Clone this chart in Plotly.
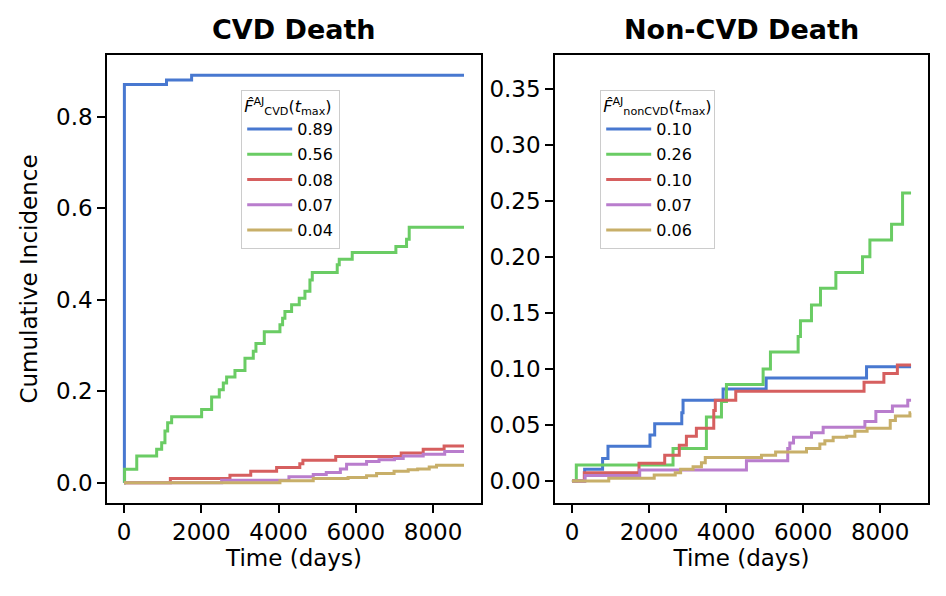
import plotly.graph_objects as go

# ---------------- data ----------------
T_MAX = 8800
group_colors = ["#4878d0", "#6acc64", "#d65f5f", "#b97dcd", "#c8af69"]

# CVD death cumulative incidence (Aalen-Johansen step curves)
cvd_t = [
    [0, 10, 1100, 1750, 8800],
    [0, 15, 330, 845, 975, 1060, 1130, 1233, 2009, 2268, 2466, 2570, 2656, 2872,
     3131, 3346, 3415, 3631, 4036, 4105, 4165, 4338, 4536, 4683, 4812, 4873,
     5519, 5571, 5907, 7037, 7313, 7382, 8800],
    [0, 1200, 2742, 3280, 3950, 4550, 4630, 5480, 7175, 7744, 8285, 8800],
    [0, 2527, 4269, 4898, 5235, 5600, 5761, 6278, 6600, 7000, 7227, 7744, 8300, 8800],
    [0, 4036, 4898, 5800, 6278, 6537, 6990, 7356, 7600, 7900, 8089, 8800],
]
cvd_v = [
    [0, 0.870, 0.880, 0.890, 0.890],
    [0, 0.029, 0.058, 0.073, 0.087, 0.113, 0.131, 0.144, 0.160, 0.187, 0.203, 0.218, 0.231, 0.245,
     0.272, 0.287, 0.304, 0.330, 0.345, 0.359, 0.374, 0.389, 0.403, 0.418, 0.443, 0.459,
     0.476, 0.488, 0.503, 0.516, 0.532, 0.558, 0.558],
    [0, 0.009, 0.016, 0.025, 0.033, 0.041, 0.049, 0.057, 0.065, 0.073, 0.080, 0.080],
    [0, 0.005, 0.013, 0.018, 0.022, 0.030, 0.040, 0.046, 0.050, 0.053, 0.058, 0.062, 0.068, 0.068],
    [0, 0.004, 0.009, 0.011, 0.015, 0.020, 0.025, 0.028, 0.030, 0.034, 0.038, 0.038],
]
cvd_labels = ["0.89", "0.56", "0.08", "0.07", "0.04"]

# Non-CVD death cumulative incidence
noncvd_t = [
    [0, 329, 795, 935, 2025, 2147, 2850, 2883, 3922, 5040, 7645, 8800],
    [0, 113, 2623, 3489, 3880, 4009, 4961, 5151, 5870, 5930, 6216, 6450, 6849, 7541,
     7732, 8294, 8580, 8800],
    [0, 320, 1740, 2407, 2785, 2970, 3229, 3680, 3720, 4251, 7580, 8095, 8445, 8800],
    [0, 340, 1758, 4528, 5600, 5654, 5750, 6216, 6519, 7602, 7887, 8316, 8715, 8800],
    [0, 955, 2135, 2680, 2820, 3143, 3360, 3460, 4918, 5285, 6087, 6433, 6563, 6779,
     7130, 7342, 7660, 8260, 8394, 8771, 8800],
]
noncvd_v = [
    [0, 0.0104, 0.020, 0.031, 0.041, 0.051, 0.061, 0.072, 0.082, 0.092, 0.102, 0.102],
    [0, 0.0143, 0.029, 0.057, 0.071, 0.086, 0.100, 0.115, 0.129, 0.143, 0.157, 0.172,
     0.186, 0.200, 0.215, 0.229, 0.257, 0.257],
    [0, 0.0074, 0.0158, 0.023, 0.032, 0.040, 0.047, 0.063, 0.072, 0.080, 0.088, 0.096,
     0.1036, 0.1036],
    [0, 0.005, 0.0098, 0.018, 0.029, 0.034, 0.039, 0.043, 0.048, 0.053, 0.062, 0.067,
     0.072, 0.072],
    [0, 0.0024, 0.0054, 0.0074, 0.0104, 0.0128, 0.0164, 0.021, 0.023, 0.026, 0.029,
     0.033, 0.036, 0.039, 0.040, 0.0445, 0.047, 0.054, 0.058, 0.061, 0.061],
]
noncvd_labels = ["0.10", "0.26", "0.10", "0.07", "0.06"]

x_ticks = [0, 2000, 4000, 6000, 8000]
cvd_y_ticks = [0.0, 0.2, 0.4, 0.6, 0.8]
noncvd_y_ticks = [0.00, 0.05, 0.10, 0.15, 0.20, 0.25, 0.30, 0.35]

titles = ["CVD Death", "Non-CVD Death"]
x_title = "Time (days)"
y_title = "Cumulative Incidence"
legend_titles = [
    "<i>F̂</i><sup>AJ</sup><sub>CVD</sub>(<i>t</i><sub>max</sub>)",
    "<i>F̂</i><sup>AJ</sup><sub>nonCVD</sub>(<i>t</i><sub>max</sub>)",
]

# ---------------- figure ----------------
FONT = "DejaVu Sans"
fig = go.Figure()

for i in range(5):
    fig.add_trace(go.Scatter(
        x=cvd_t[i], y=cvd_v[i], mode="lines", line=dict(shape="hv", color=group_colors[i], width=3),
        name=cvd_labels[i], xaxis="x", yaxis="y", legend="legend", legendgroup=f"c{i}",
    ))
for i in range(5):
    fig.add_trace(go.Scatter(
        x=noncvd_t[i], y=noncvd_v[i], mode="lines", line=dict(shape="hv", color=group_colors[i], width=3),
        name=noncvd_labels[i], xaxis="x2", yaxis="y2", legend="legend2", legendgroup=f"n{i}",
    ))

axis_common = dict(
    showline=True, mirror=True, linecolor="black", linewidth=1.6,
    ticks="outside", ticklen=8, tickwidth=1.5, tickcolor="black",
    showgrid=False, zeroline=False,
    tickfont=dict(family=FONT, size=23, color="black"),
)

# page body has an 8px offset; figure is placed so the plot areas land where the reference has them
OFF = 8
W, H = 946 - OFF, 596 - OFF
L, R, T, B = 107 - OFF, 18, 55 - OFF, 93
pw = W - L - R
ph = H - T - B

legend_common = dict(
    bgcolor="rgba(255,255,255,0.8)", bordercolor="#cccccc", borderwidth=1.2,
    font=dict(family=FONT, size=16, color="black"),
    xanchor="left", yanchor="top", itemwidth=45, tracegroupgap=1.5,
)

fig.update_layout(
    width=W, height=H,
    margin=dict(l=L, r=R, t=T, b=B),
    plot_bgcolor="white", paper_bgcolor="white",
    font=dict(family=FONT, color="black"),
    xaxis=dict(domain=[0, (481 - 107) / pw], range=[-440, 9240], tickvals=x_ticks,
               title=dict(text=x_title, font=dict(family=FONT, size=23), standoff=4), **axis_common),
    yaxis=dict(domain=[0, 1], range=[-0.0445, 0.9345], tickvals=cvd_y_ticks, tickformat=".1f",
               title=dict(text=y_title, font=dict(family=FONT, size=23), standoff=12), **axis_common),
    xaxis2=dict(domain=[(555 - 107) / pw, 1], range=[-440, 9240], tickvals=x_ticks, anchor="y2",
                title=dict(text=x_title, font=dict(family=FONT, size=23), standoff=4), **axis_common),
    yaxis2=dict(domain=[0, 1], range=[-0.0196, 0.380], tickvals=noncvd_y_ticks, tickformat=".2f",
                anchor="x2", **axis_common),
    legend=dict(x=(241 - 107) / pw, y=1 - (90 - 55) / ph,
                title=dict(text=legend_titles[0], font=dict(family=FONT, size=16)), **legend_common),
    legend2=dict(x=(600 - 107) / pw, y=1 - (90 - 55) / ph,
                 title=dict(text=legend_titles[1], font=dict(family=FONT, size=16)), **legend_common),
    showlegend=True,
)

for i, ax in enumerate(["x", "x2"]):
    fig.add_annotation(
        text=f"<b>{titles[i]}</b>", xref=f"{ax} domain", x=0.5, yref="paper", y=1,
        yanchor="middle", yshift=26, showarrow=False,
        font=dict(family=FONT, size=27, color="black"),
    )

fig.write_html("out.html")
